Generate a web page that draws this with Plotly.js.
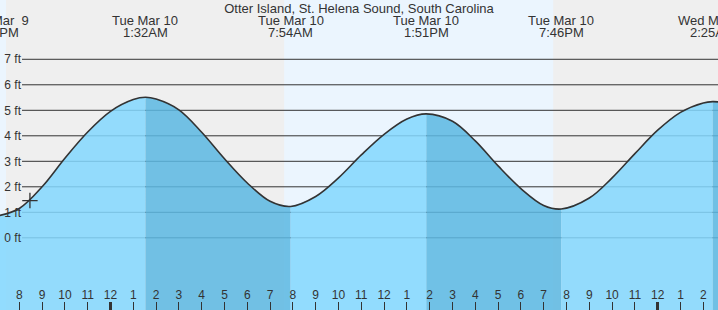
<!DOCTYPE html>
<html><head><meta charset="utf-8">
<script src="https://cdn.plot.ly/plotly-3.0.1.min.js"></script>
<style>html,body{margin:0;padding:0;background:#fff}#chart{width:718px;height:310px}</style>
</head><body><div id="chart"></div>
<script>
const titleText = 'Otter Island, St. Helena Sound, South Carolina';

// tide curve (feet), hourly plus high/low points
const tideTimes = [
  '2015-03-09 19:00','2015-03-09 20:00','2015-03-09 21:00','2015-03-09 22:00','2015-03-09 23:00',
  '2015-03-10 00:00','2015-03-10 01:00','2015-03-10 01:32','2015-03-10 02:00','2015-03-10 03:00',
  '2015-03-10 04:00','2015-03-10 05:00','2015-03-10 06:00','2015-03-10 07:00','2015-03-10 07:54',
  '2015-03-10 09:00','2015-03-10 10:00','2015-03-10 11:00','2015-03-10 12:00','2015-03-10 13:00',
  '2015-03-10 13:51','2015-03-10 15:00','2015-03-10 16:00','2015-03-10 17:00','2015-03-10 18:00',
  '2015-03-10 19:00','2015-03-10 19:46','2015-03-10 21:00','2015-03-10 22:00','2015-03-10 23:00',
  '2015-03-11 00:00','2015-03-11 01:00','2015-03-11 02:00','2015-03-11 02:25','2015-03-11 02:45'
];
const tideFeet = [
  0.85, 1.15, 2.00, 3.12, 4.15,
  4.96, 5.42, 5.51, 5.44, 5.02,
  4.14, 3.10, 2.15, 1.43, 1.23,
  1.62, 2.35, 3.25, 4.06, 4.66,
  4.86, 4.57, 3.80, 2.82, 1.93,
  1.27, 1.13, 1.56, 2.35, 3.30,
  4.22, 4.92, 5.29, 5.34, 5.32
];

// high / low tides
const extremeTimes = ['2015-03-09 19:00','2015-03-10 01:32','2015-03-10 07:54','2015-03-10 13:51','2015-03-10 19:46','2015-03-11 02:25'];
const extremeKind  = ['L','H','L','H','L','H'];
const extremeDay   = ['Mon Mar\u00a0\u00a09','Tue Mar 10','Tue Mar 10','Tue Mar 10','Tue Mar 10','Wed Mar 11'];
const extremeClock = ['7:00PM','1:32AM','7:54AM','1:51PM','7:46PM','2:25AM'];

// daylight
const sunrise = ['2015-03-09 07:38','2015-03-10 07:37'];
const sunset  = ['2015-03-09 19:25','2015-03-10 19:25'];

// current time marker
const nowTime = ['2015-03-09 20:28'];
const nowFeet = [1.46];

// axes
const hourTicks = [
  '2015-03-09 20:00','2015-03-09 21:00','2015-03-09 22:00','2015-03-09 23:00',
  '2015-03-10 00:00','2015-03-10 01:00','2015-03-10 02:00','2015-03-10 03:00','2015-03-10 04:00','2015-03-10 05:00',
  '2015-03-10 06:00','2015-03-10 07:00','2015-03-10 08:00','2015-03-10 09:00','2015-03-10 10:00','2015-03-10 11:00',
  '2015-03-10 12:00','2015-03-10 13:00','2015-03-10 14:00','2015-03-10 15:00','2015-03-10 16:00','2015-03-10 17:00',
  '2015-03-10 18:00','2015-03-10 19:00','2015-03-10 20:00','2015-03-10 21:00','2015-03-10 22:00','2015-03-10 23:00',
  '2015-03-11 00:00','2015-03-11 01:00','2015-03-11 02:00'
];
const hourLabels = ['8','9','10','11','12','1','2','3','4','5','6','7','8','9','10','11','12','1','2','3','4','5','6','7','8','9','10','11','12','1','2'];
const midnightTicks = ['2015-03-10 00:00','2015-03-11 00:00'];
const feetTicks = [0,1,2,3,4,5,6,7];
const feetLabels = ['0 ft','1 ft','2 ft','3 ft','4 ft','5 ft','6 ft','7 ft'];

const xRange = ['2015-03-09 19:09:14','2015-03-11 02:38:42'];
const yRange = [-2.831, 9.325];
const W = 718, H = 310;
const FONT = 'Liberation Sans, Arial, sans-serif';
const INK = '#333333';
const lightFill = 'rgba(131,215,254,0.86)';
const darkFill  = 'rgba(92,184,226,0.86)';

const ms = s => Date.parse(s.replace(' ', 'T') + 'Z');
const x0ms = ms(xRange[0]), x1ms = ms(xRange[1]);
const toPaper = s => (ms(s) - x0ms) / (x1ms - x0ms);

const traces = [];
function addSegment(a, b, color) {
  const sx = [], sy = [];
  tideTimes.forEach((t, k) => { const m = ms(t); if (m >= a && m <= b) { sx.push(t); sy.push(tideFeet[k]); } });
  traces.push({x: sx, y: sx.map(() => yRange[0]), mode: 'lines', line: {width: 0}, hoverinfo: 'skip', showlegend: false});
  traces.push({x: sx, y: sy, mode: 'lines', line: {width: 0, shape: 'spline', smoothing: 1}, fill: 'tonexty',
    fillcolor: color, hoverinfo: 'skip', showlegend: false});
}
for (let i = 0; i < extremeTimes.length; i++) {
  const a = ms(extremeTimes[i]);
  const b = i + 1 < extremeTimes.length ? ms(extremeTimes[i + 1]) : Infinity;
  addSegment(a, b, extremeKind[i] === 'H' ? darkFill : lightFill);
}
traces.push({x: tideTimes, y: tideFeet, mode: 'lines', line: {color: INK, width: 1.6, shape: 'spline', smoothing: 1},
  hoverinfo: 'skip', showlegend: false});
traces.push({x: nowTime, y: nowFeet, mode: 'markers', marker: {symbol: 'cross-thin', size: 11, line: {color: INK, width: 1.3}},
  hoverinfo: 'skip', showlegend: false});
traces.push({x: midnightTicks, y: [0, 0], xaxis: 'x2', mode: 'markers', marker: {opacity: 0}, hoverinfo: 'skip', showlegend: false});

const shapes = [];
sunrise.forEach((s, i) => shapes.push({type: 'rect', xref: 'x', yref: 'paper', x0: s, x1: sunset[i], y0: 0, y1: 1,
  fillcolor: '#EBF5FE', line: {width: 0}, layer: 'below'}));
feetTicks.forEach(v => shapes.push({type: 'line', xref: 'paper', yref: 'y', x0: 22 / W, x1: 1, y0: v, y1: v,
  line: {color: INK, width: 1}, layer: 'below'}));

const annotations = [];
extremeTimes.forEach((t, i) => {
  const px = toPaper(t);
  annotations.push({xref: 'paper', yref: 'paper', x: px, y: 1, yanchor: 'middle', xanchor: 'center', yshift: -20,
    text: extremeDay[i], showarrow: false, font: {family: FONT, size: 13, color: INK}});
  annotations.push({xref: 'paper', yref: 'paper', x: px, y: 1, yanchor: 'middle', xanchor: 'center', yshift: -32,
    text: extremeClock[i], showarrow: false, font: {family: FONT, size: 13, color: INK}});
});

const layout = {
  width: W, height: H,
  margin: {l: 0, r: 0, t: 0, b: 0, pad: 0},
  paper_bgcolor: '#EFEFEF', plot_bgcolor: '#EFEFEF',
  font: {family: FONT, size: 12, color: INK},
  title: {text: titleText, x: 0.5, xanchor: 'center', y: 1 - 8 / H, yanchor: 'middle', yref: 'container',
    font: {family: FONT, size: 13, color: INK}},
  xaxis: {type: 'date', range: xRange, tickmode: 'array', tickvals: hourTicks, ticktext: hourLabels,
    ticks: 'inside', ticklen: 8, tickwidth: 1, tickcolor: INK, ticklabelposition: 'inside',
    showgrid: false, zeroline: false, showline: false, tickfont: {family: FONT, size: 12, color: INK}, fixedrange: true},
  xaxis2: {type: 'date', range: xRange, overlaying: 'x', anchor: 'y', side: 'bottom', tickmode: 'array', tickvals: midnightTicks,
    ticks: 'inside', ticklen: 8, tickwidth: 3, tickcolor: INK, showticklabels: false, showgrid: false, zeroline: false, showline: false},
  yaxis: {range: yRange, tickmode: 'array', tickvals: feetTicks, ticktext: feetLabels, ticklabelposition: 'outside',
    ticklabelstandoff: -22, ticks: '', showgrid: false, zeroline: false, showline: false,
    tickfont: {family: FONT, size: 12, color: INK}, fixedrange: true},
  shapes: shapes,
  annotations: annotations,
  showlegend: false
};

Plotly.newPlot('chart', traces, layout, {staticPlot: true, displayModeBar: false});
</script>
</body></html>
